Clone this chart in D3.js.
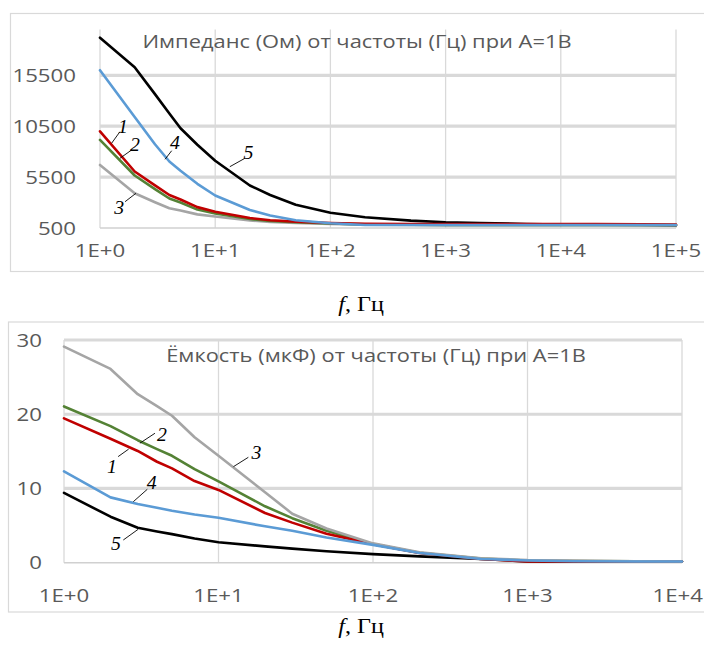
<!DOCTYPE html>
<html><head><meta charset="utf-8">
<script src="https://cdn.jsdelivr.net/npm/d3@7"></script>
<style>body{margin:0;background:#fff}svg{display:block}</style>
</head><body>
<svg id="c" width="704" height="645"></svg>
<script>
// ---------- DATA ----------
const freqTop = [1,2,3,4,5,7,10,20,30,50,100,200,500,1000,2000,5000,10000,20000,50000,100000];
const impRed1   = [10000,6050,4690,3740,3300,2550,2090,1480,1260,1130,990,920,900,890,880,880,880,880,860,830];
const impGreen2 = [9150,5660,4320,3400,3000,2310,1920,1380,1190,1060,940,860,820,800,800,800,800,800,800,800];
const impGrey3  = [6690,3910,3030,2440,2220,1840,1630,1240,1090,990,890,830,800,780,780,780,780,780,780,780];
const impBlue4  = [16000,11400,8730,7030,6130,4840,3690,2270,1730,1260,960,800,790,790,790,790,790,790,790,790];
const impBlack5 = [19200,16300,13650,11750,10300,8680,7100,4680,3740,2780,2000,1560,1220,1060,990,900,850,820,800,760];

const freqBottom = [1,2,3,4,5,7,10,20,30,50,100,200,500,1000,2000,5000,10000];
const capRed1   = [19.45,16.7,15.05,13.6,12.7,11.0,9.8,6.7,5.4,3.9,2.5,1.3,0.5,0.18,0.17,0.17,0.17];
const capGreen2 = [21.05,18.4,16.5,15.3,14.4,12.6,10.95,7.6,6.0,4.3,2.5,1.35,0.55,0.3,0.22,0.18,0.17];
const capGrey3  = [29.1,26.1,22.7,21.1,19.8,16.9,14.4,9.5,6.6,4.6,2.6,1.4,0.6,0.36,0.28,0.2,0.17];
const capBlue4  = [12.3,8.8,7.9,7.4,7.0,6.5,6.05,4.9,4.3,3.4,2.4,1.3,0.5,0.3,0.2,0.17,0.17];
const capBlack5 = [9.4,6.2,4.7,4.2,3.85,3.25,2.75,2.2,1.9,1.55,1.15,0.85,0.5,0.18,0.15,0.15,0.15];

const xTicksTop = [1,10,100,1000,10000,100000];
const xTickLabelsTop = ["1E+0","1E+1","1E+2","1E+3","1E+4","1E+5"];
const yTicksTop = [500,5500,10500,15500];
const xTicksBottom = [1,10,100,1000,10000];
const xTickLabelsBottom = ["1E+0","1E+1","1E+2","1E+3","1E+4"];
const yTicksBottom = [0,10,20,30];

const titleTop = "Импеданс (Ом) от частоты (Гц) при А=1В";
const titleBottom = "Ёмкость (мкФ) от частоты (Гц) при А=1В";

// annotation anchors in data space: [label, textF, textV, f1, v1, f2, v2]
const annTop = [
  ["1",1.58,10421,1.26,8820,1.49,9960],
  ["2",2.01,8653,1.49,7347,1.88,8162],
  ["3",1.47,2435,1.65,3083,2.05,3909],
  ["4",4.48,8820,3.67,7248,4.19,8093],
  ["5",19.4,7838,13.4,6521,18.1,7347]
];
const annBottom = [
  ["1",2.04,12.96,2.24,14.29,2.62,15.3],
  ["2",4.31,17.2,3.1,16.1,3.88,17.44],
  ["3",17.6,14.74,12.5,12.94,15.6,14.2],
  ["4",3.69,10.7,2.81,8.22,3.46,9.89],
  ["5",2.17,2.61,2.42,3.06,3.02,4.5]
];

// ---------- STYLE ----------
const colors = {red:"#c00000", green:"#548235", grey:"#a5a5a5", blue:"#5b9bd5", black:"#000000"};
const W = 704;
const svg = d3.select("#c");

function stext(g, x, y, str, o) {
  const sx = o.sx || 1.24;
  const t = g.append("text")
    .attr("transform", `translate(${x},${y}) scale(${sx},1)`)
    .attr("text-anchor", o.anchor || "middle")
    .attr("dominant-baseline", o.baseline || "alphabetic")
    .style("font-family", o.family || "'Open Sans', sans-serif")
    .style("font-size", o.size + "px")
    .style("font-style", o.italic ? "italic" : "normal")
    .attr("fill", o.fill || "#595959")
    .text(str);
  if (o.clamp) {
    const half = t.node().getComputedTextLength() * sx / 2;
    if (x + half > W - 1) t.attr("transform", `translate(${W - 1 - half},${y}) scale(${sx},1)`);
  }
  return t;
}

function drawChart(cfg) {
  const g = svg.append("g");
  g.append("rect").attr("x", cfg.box[0]+0.5).attr("y", cfg.box[1]+0.5)
    .attr("width", cfg.box[2]).attr("height", cfg.box[3])
    .attr("fill", "none").attr("stroke", "#d9d9d9").attr("stroke-width", 1.2);

  const x = d3.scaleLog().domain(cfg.xDomain).range([cfg.left, cfg.right]);
  const y = d3.scaleLinear().domain(cfg.yDomain).range([cfg.bottom, cfg.top]);

  g.selectAll(".vg").data(cfg.xTicks).enter().append("line")
    .attr("x1", d => x(d)).attr("x2", d => x(d))
    .attr("y1", cfg.top).attr("y2", cfg.bottom)
    .attr("stroke", "#d9d9d9").attr("stroke-width", 1.3);
  g.selectAll(".hg").data(cfg.yTicks).enter().append("line")
    .attr("x1", cfg.left).attr("x2", cfg.right)
    .attr("y1", d => y(d)).attr("y2", d => y(d))
    .attr("stroke", d => d === cfg.yDomain[0] ? "#d0d0d0" : "#d9d9d9")
    .attr("stroke-width", d => d === cfg.yDomain[0] ? 1.5 : 3.2);

  cfg.yTicks.forEach(v => stext(g, cfg.yLabelX, y(v), String(v), {anchor:"end", baseline:"central", size:17.5, sx:1.27}));
  cfg.xTicks.forEach((v, i) => stext(g, x(v), cfg.xLabelY, cfg.xLabels[i], {anchor:"middle", baseline:"central", size:17.5, sx:1.27, clamp:true}));

  stext(g, cfg.titleX, cfg.titleY, cfg.title, {anchor:"middle", size:17.5, sx:1.25});

  const line = d3.line().x(d => x(d[0])).y(d => y(d[1])).curve(d3.curveLinear);
  cfg.series.forEach(s => {
    const pts = cfg.freq.map((f, i) => [f, s.values[i]]);
    g.append("path").attr("d", line(pts)).attr("fill", "none")
      .attr("stroke", s.color).attr("stroke-width", 2.6)
      .attr("stroke-linejoin", "round").attr("stroke-linecap", "round");
  });

  cfg.ann.forEach(a => {
    g.append("line").attr("x1", x(a[3])).attr("y1", y(a[4])).attr("x2", x(a[5])).attr("y2", y(a[6]))
      .attr("stroke", "#000").attr("stroke-width", 0.9);
    stext(g, x(a[1]), y(a[2]), a[0], {anchor:"middle", baseline:"central", size:18, italic:true,
      family:"'Liberation Serif','Times New Roman',serif", fill:"#000", sx:1.1});
  });

  const cap = g.append("text")
    .attr("transform", `translate(${cfg.capX},${cfg.capY}) scale(1.15,1)`)
    .attr("text-anchor", "middle")
    .style("font-family", "'Liberation Serif','Times New Roman',serif")
    .style("font-size", "21px").attr("fill", "#000");
  cap.append("tspan").style("font-style", "italic").text("f");
  cap.append("tspan").text(", Гц");
}

drawChart({
  box:[10,13,720,258],
  left:100, right:676, top:29.5, bottom:228,
  xDomain:[1,100000], yDomain:[500,20000],
  xTicks:xTicksTop, xLabels:xTickLabelsTop, yTicks:yTicksTop,
  yLabelX:76, xLabelY:250,
  title:titleTop, titleX:357, titleY:48,
  freq:freqTop,
  series:[
    {values:impBlack5, color:colors.black},
    {values:impGrey3, color:colors.grey},
    {values:impGreen2, color:colors.green},
    {values:impRed1, color:colors.red},
    {values:impBlue4, color:colors.blue}
  ],
  ann:annTop, capX:361, capY:311
});

drawChart({
  box:[8,321.5,720,290],
  left:64, right:682, top:340, bottom:562.7,
  xDomain:[1,10000], yDomain:[0,30],
  xTicks:xTicksBottom, xLabels:xTickLabelsBottom, yTicks:yTicksBottom,
  yLabelX:42, xLabelY:595,
  title:titleBottom, titleX:376, titleY:362,
  freq:freqBottom,
  series:[
    {values:capBlack5, color:colors.black},
    {values:capGreen2, color:colors.green},
    {values:capRed1, color:colors.red},
    {values:capGrey3, color:colors.grey},
    {values:capBlue4, color:colors.blue}
  ],
  ann:annBottom, capX:361, capY:633
});
</script>
</body></html>
